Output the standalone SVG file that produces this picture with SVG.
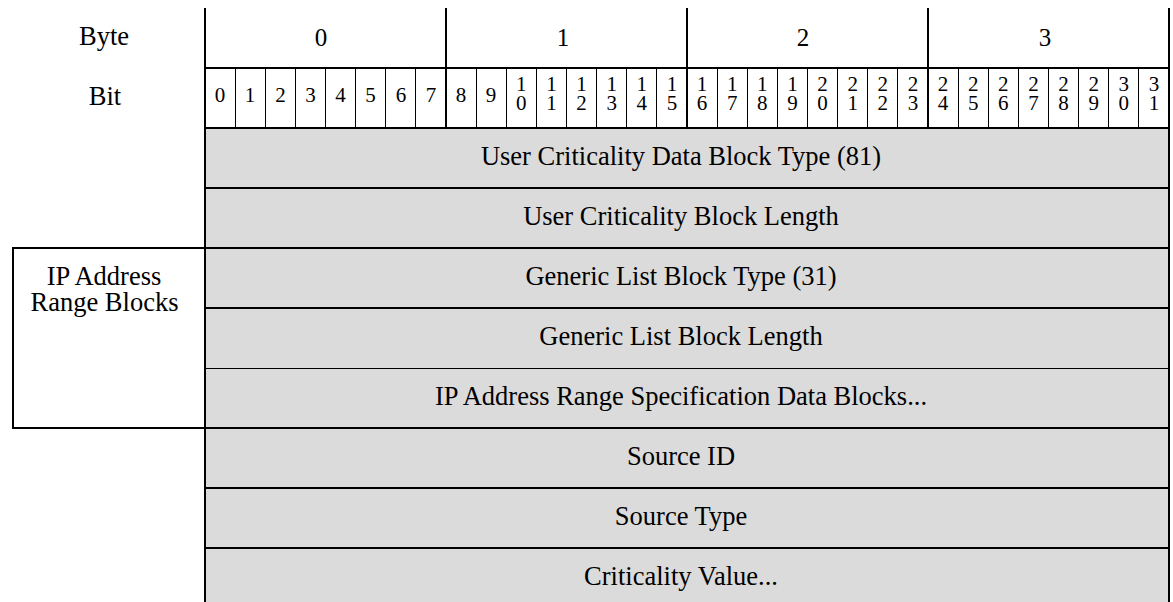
<svg xmlns="http://www.w3.org/2000/svg" width="1173" height="602" viewBox="0 0 1173 602">
<style>
text{font-family:"Liberation Serif","Times New Roman",serif;fill:#000;text-anchor:middle}
.lbl{font-size:26.5px}
.byte{font-size:25px}
.bit{font-size:21px}
.thick{stroke:#000;stroke-width:2;fill:none}
.thin{stroke:#000;stroke-width:1;fill:none}
.row{fill:#dbdbdb}
</style>
<rect width="1173" height="602" fill="#fff"/>
<g id="header">
<text class="lbl" x="104" y="45">Byte</text>
<text class="lbl" x="105" y="105">Bit</text>
<text class="byte" x="321" y="46">0</text>
<text class="byte" x="563" y="46">1</text>
<text class="byte" x="803" y="46">2</text>
<text class="byte" x="1045" y="46">3</text>
<g class="bit">
<text x="220" y="102">0</text>
<text x="250" y="102">1</text>
<text x="280.5" y="102">2</text>
<text x="310.5" y="102">3</text>
<text x="340.5" y="102">4</text>
<text x="370.5" y="102">5</text>
<text x="401" y="102">6</text>
<text x="431" y="102">7</text>
<text x="461" y="102">8</text>
<text x="491" y="102">9</text>
<text x="521.3" y="91">1<tspan x="521.3" y="110">0</tspan></text>
<text x="551.4" y="91">1<tspan x="551.4" y="110">1</tspan></text>
<text x="581.6" y="91">1<tspan x="581.6" y="110">2</tspan></text>
<text x="611.7" y="91">1<tspan x="611.7" y="110">3</tspan></text>
<text x="641.8" y="91">1<tspan x="641.8" y="110">4</tspan></text>
<text x="671.9" y="91">1<tspan x="671.9" y="110">5</tspan></text>
<text x="702.1" y="91">1<tspan x="702.1" y="110">6</tspan></text>
<text x="732.2" y="91">1<tspan x="732.2" y="110">7</tspan></text>
<text x="762.3" y="91">1<tspan x="762.3" y="110">8</tspan></text>
<text x="792.4" y="91">1<tspan x="792.4" y="110">9</tspan></text>
<text x="822.6" y="91">2<tspan x="822.6" y="110">0</tspan></text>
<text x="852.7" y="91">2<tspan x="852.7" y="110">1</tspan></text>
<text x="882.8" y="91">2<tspan x="882.8" y="110">2</tspan></text>
<text x="912.9" y="91">2<tspan x="912.9" y="110">3</tspan></text>
<text x="943.1" y="91">2<tspan x="943.1" y="110">4</tspan></text>
<text x="973.2" y="91">2<tspan x="973.2" y="110">5</tspan></text>
<text x="1003.3" y="91">2<tspan x="1003.3" y="110">6</tspan></text>
<text x="1033.4" y="91">2<tspan x="1033.4" y="110">7</tspan></text>
<text x="1063.6" y="91">2<tspan x="1063.6" y="110">8</tspan></text>
<text x="1093.7" y="91">2<tspan x="1093.7" y="110">9</tspan></text>
<text x="1123.8" y="91">3<tspan x="1123.8" y="110">0</tspan></text>
<text x="1153.9" y="91">3<tspan x="1153.9" y="110">1</tspan></text>
</g>
</g>
<g id="row-uc-type"><rect class="row" x="205" y="128" width="964" height="60"/><text class="lbl" x="681" y="165">User Criticality Data Block Type (81)</text></g>
<g id="row-uc-length"><rect class="row" x="205" y="188" width="964" height="60"/><text class="lbl" x="681" y="225">User Criticality Block Length</text></g>
<g id="row-gl-type"><rect class="row" x="205" y="248" width="964" height="60"/><text class="lbl" x="681" y="285">Generic List Block Type (31)</text></g>
<g id="row-gl-length"><rect class="row" x="205" y="308" width="964" height="60"/><text class="lbl" x="681" y="345">Generic List Block Length</text></g>
<g id="row-ip-blocks"><rect class="row" x="205" y="368" width="964" height="60"/><text class="lbl" x="681" y="405">IP Address Range Specification Data Blocks...</text></g>
<g id="row-source-id"><rect class="row" x="205" y="428" width="964" height="60"/><text class="lbl" x="681" y="465">Source ID</text></g>
<g id="row-source-type"><rect class="row" x="205" y="488" width="964" height="60"/><text class="lbl" x="681" y="525">Source Type</text></g>
<g id="row-crit-value"><rect class="row" x="205" y="548" width="964" height="54"/><text class="lbl" x="681" y="585">Criticality Value...</text></g>
<g id="ip-range-label">
<rect class="thick" x="13" y="248" width="192" height="180"/>
<text class="lbl" x="104" y="285">IP Address</text>
<text class="lbl" x="104.5" y="311">Range Blocks</text>
</g>
<g id="connectors">
<path class="thin" d="M235.5 68V128M265.5 68V128M295.5 68V128M325.5 68V128M355.5 68V128M385.5 68V128M415.5 68V128M476.5 68V128M506.5 68V128M536.5 68V128M566.5 68V128M596.5 68V128M626.5 68V128M656.5 68V128M717.5 68V128M747.5 68V128M777.5 68V128M807.5 68V128M837.5 68V128M867.5 68V128M897.5 68V128M958.5 68V128M988.5 68V128M1018.5 68V128M1048.5 68V128M1078.5 68V128M1108.5 68V128M1138.5 68V128"/>
<path class="thin" d="M205 368.5H1169"/>
<path class="thick" d="M205 8V602M1169 8V602M446 8V128M687 8V128M928 8V128"/>
<path class="thick" d="M205 68H1169M205 128H1169M205 188H1169M205 248H1169M205 308H1169M205 428H1169M205 488H1169M205 548H1169"/>
</g>
</svg>
